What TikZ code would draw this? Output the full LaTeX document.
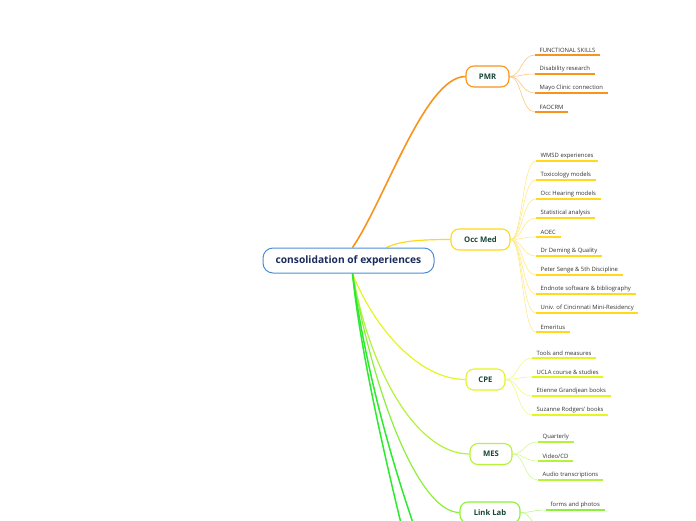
\documentclass[tikz,border=0pt]{standalone}
\usepackage{fontspec}
\setmainfont{Open Sans}
\usetikzlibrary{backgrounds}
\definecolor{cblue}{HTML}{4A8FD4}
\definecolor{ctext}{HTML}{1A2B5C}
\definecolor{ntext}{HTML}{17473A}
\definecolor{corange}{HTML}{F7941E}
\definecolor{corangel}{HTML}{FBC77F}
\definecolor{cyel}{HTML}{FFD91A}
\definecolor{cyell}{HTML}{FFE98A}
\definecolor{clime}{HTML}{E4F51F}
\definecolor{climel}{HTML}{EEF98A}
\definecolor{cmes}{HTML}{B5F23A}
\definecolor{cmesl}{HTML}{D5F796}
\definecolor{clink}{HTML}{8CF03A}
\definecolor{clinkl}{HTML}{C0F58F}
\definecolor{cgreen}{HTML}{2EEA2E}
\tikzset{
  central/.style={draw=cblue, line width=1pt, rounded corners=10pt, minimum width=171pt, minimum height=25pt, inner sep=2pt, font=\fontsize{10.2}{11}\selectfont\bfseries, text=ctext, fill=white},
  topic/.style={rounded corners=8pt, line width=1.1pt, minimum height=21pt, inner sep=2pt, font=\fontsize{7.7}{9}\selectfont\bfseries, text=ntext, fill=white},
  leaf/.style={anchor=south west, inner xsep=4.5pt, inner ysep=2.2pt, font=\fontsize{5.9}{7}\selectfont, text=black!80},
  uline/.style={line width=1.3pt},
  twig/.style={line width=0.6pt},
  branch/.style={line width=1.2pt}
}
\begin{document}
\begin{tikzpicture}[x=1pt,y=-1pt]
\useasboundingbox (0,0) rectangle (696,520);
\clip (0,0) rectangle (696,520);
\node[central] (c) at (348.5,260.5) {consolidation of experiences};
\node[topic, draw=corange, minimum width=43pt] (pmr) at (487.5,76.5) {PMR};
\node[topic, draw=cyel, minimum width=59pt] (occ) at (480.5,239.5) {Occ Med};
\node[topic, draw=clime, minimum width=39pt] (cpe) at (485.5,379.5) {CPE};
\node[topic, draw=cmes, minimum width=42pt] (mes) at (491,454) {MES};
\node[topic, draw=clink, minimum width=60pt] (ll) at (490,512.5) {Link Lab};
\coordinate (g1) at (410,560);
\coordinate (g2) at (432,575);
\coordinate (ll2) at (546,531);

\begin{scope}[on background layer]
\draw[branch, corange, line width=1.6pt] ([xshift=4pt]c.north) .. controls (385,200) and (425,76.5) .. (pmr.west);
\draw[branch, cyel] ([xshift=38pt]c.north) .. controls (400,241) and (420,239.5) .. (occ.west);
\draw[branch, clime] ([xshift=4pt]c.south) .. controls (375,330) and (420,379.5) .. (cpe.west);
\draw[branch, cmes] ([xshift=4pt]c.south) .. controls (372,380) and (420,454) .. (mes.west);
\draw[branch, clink] ([xshift=4pt]c.south) .. controls (375,400) and (420,512.5) .. (ll.west);
\draw[branch, cgreen, line width=1.5pt] ([xshift=4pt]c.south) .. controls (358,330) and (375,420) .. (g1);
\draw[branch, cgreen, line width=1.5pt] ([xshift=4pt]c.south) .. controls (360,330) and (380,440) .. (g2);
\draw[twig, clinkl] (ll.east) .. controls +(12,0) and +(-14,0) .. (ll2);
\end{scope}

\foreach \n/\y/\t in {p1/55/FUNCTIONAL SKILLS, p2/74/Disability research, p3/93/Mayo Clinic connection, p4/112/FAOCRM} {
  \node[leaf] (\n) at (535,\y) {\t};
  \draw[uline, corange] (\n.south west) -- (\n.south east);
  \begin{scope}[on background layer]
  \draw[twig, corangel] (pmr.east) .. controls +(12,0) and +(-14,0) .. (\n.south west);
  \end{scope}
}
\foreach \n/\y/\t in {o1/161/WMSD experiences, o2/180/Toxicology models, o3/199/Occ Hearing models, o4/218/Statistical analysis, o5/237/AOEC, o6/256/Dr Deming \& Quality, o7/275/Peter Senge \& 5th Discipline, o8/294/Endnote software \& bibliography, o9/313/Univ. of Cincinnati Mini-Residency, o10/332/Emeritus} {
  \node[leaf] (\n) at (536,\y) {\t};
  \draw[uline, cyel] (\n.south west) -- (\n.south east);
  \begin{scope}[on background layer]
  \draw[twig, cyell] (occ.east) .. controls +(12,0) and +(-14,0) .. (\n.south west);
  \end{scope}
}
\foreach \n/\y/\t in {c1/358/Tools and measures, c2/377/UCLA course \& studies, c3/396/Etienne Grandjean books, c4/415/Suzanne Rodgers' books} {
  \node[leaf] (\n) at (532,\y) {\t};
  \draw[uline, clime] (\n.south west) -- (\n.south east);
  \begin{scope}[on background layer]
  \draw[twig, climel] (cpe.east) .. controls +(12,0) and +(-14,0) .. (\n.south west);
  \end{scope}
}
\node[leaf] (m1) at (538,442) {Quarterly};
\node[leaf] (m2) at (538,461) {Video/CD};
\node[leaf] (m3) at (538,480) {Audio transcriptions};
\foreach \n in {m1,m2,m3} {
  \draw[uline, cmes] (\n.south west) -- (\n.south east);
  \begin{scope}[on background layer]
  \draw[twig, cmesl] (mes.east) .. controls +(12,0) and +(-14,0) .. (\n.south west);
  \end{scope}
}
\node[leaf] (l1) at (546,510) {forms and photos};
\draw[uline, clink] (l1.south west) -- (l1.south east);
\begin{scope}[on background layer]
\draw[twig, clinkl] (ll.east) .. controls +(12,0) and +(-14,0) .. (l1.south west);
\end{scope}
\end{tikzpicture}
\end{document}
